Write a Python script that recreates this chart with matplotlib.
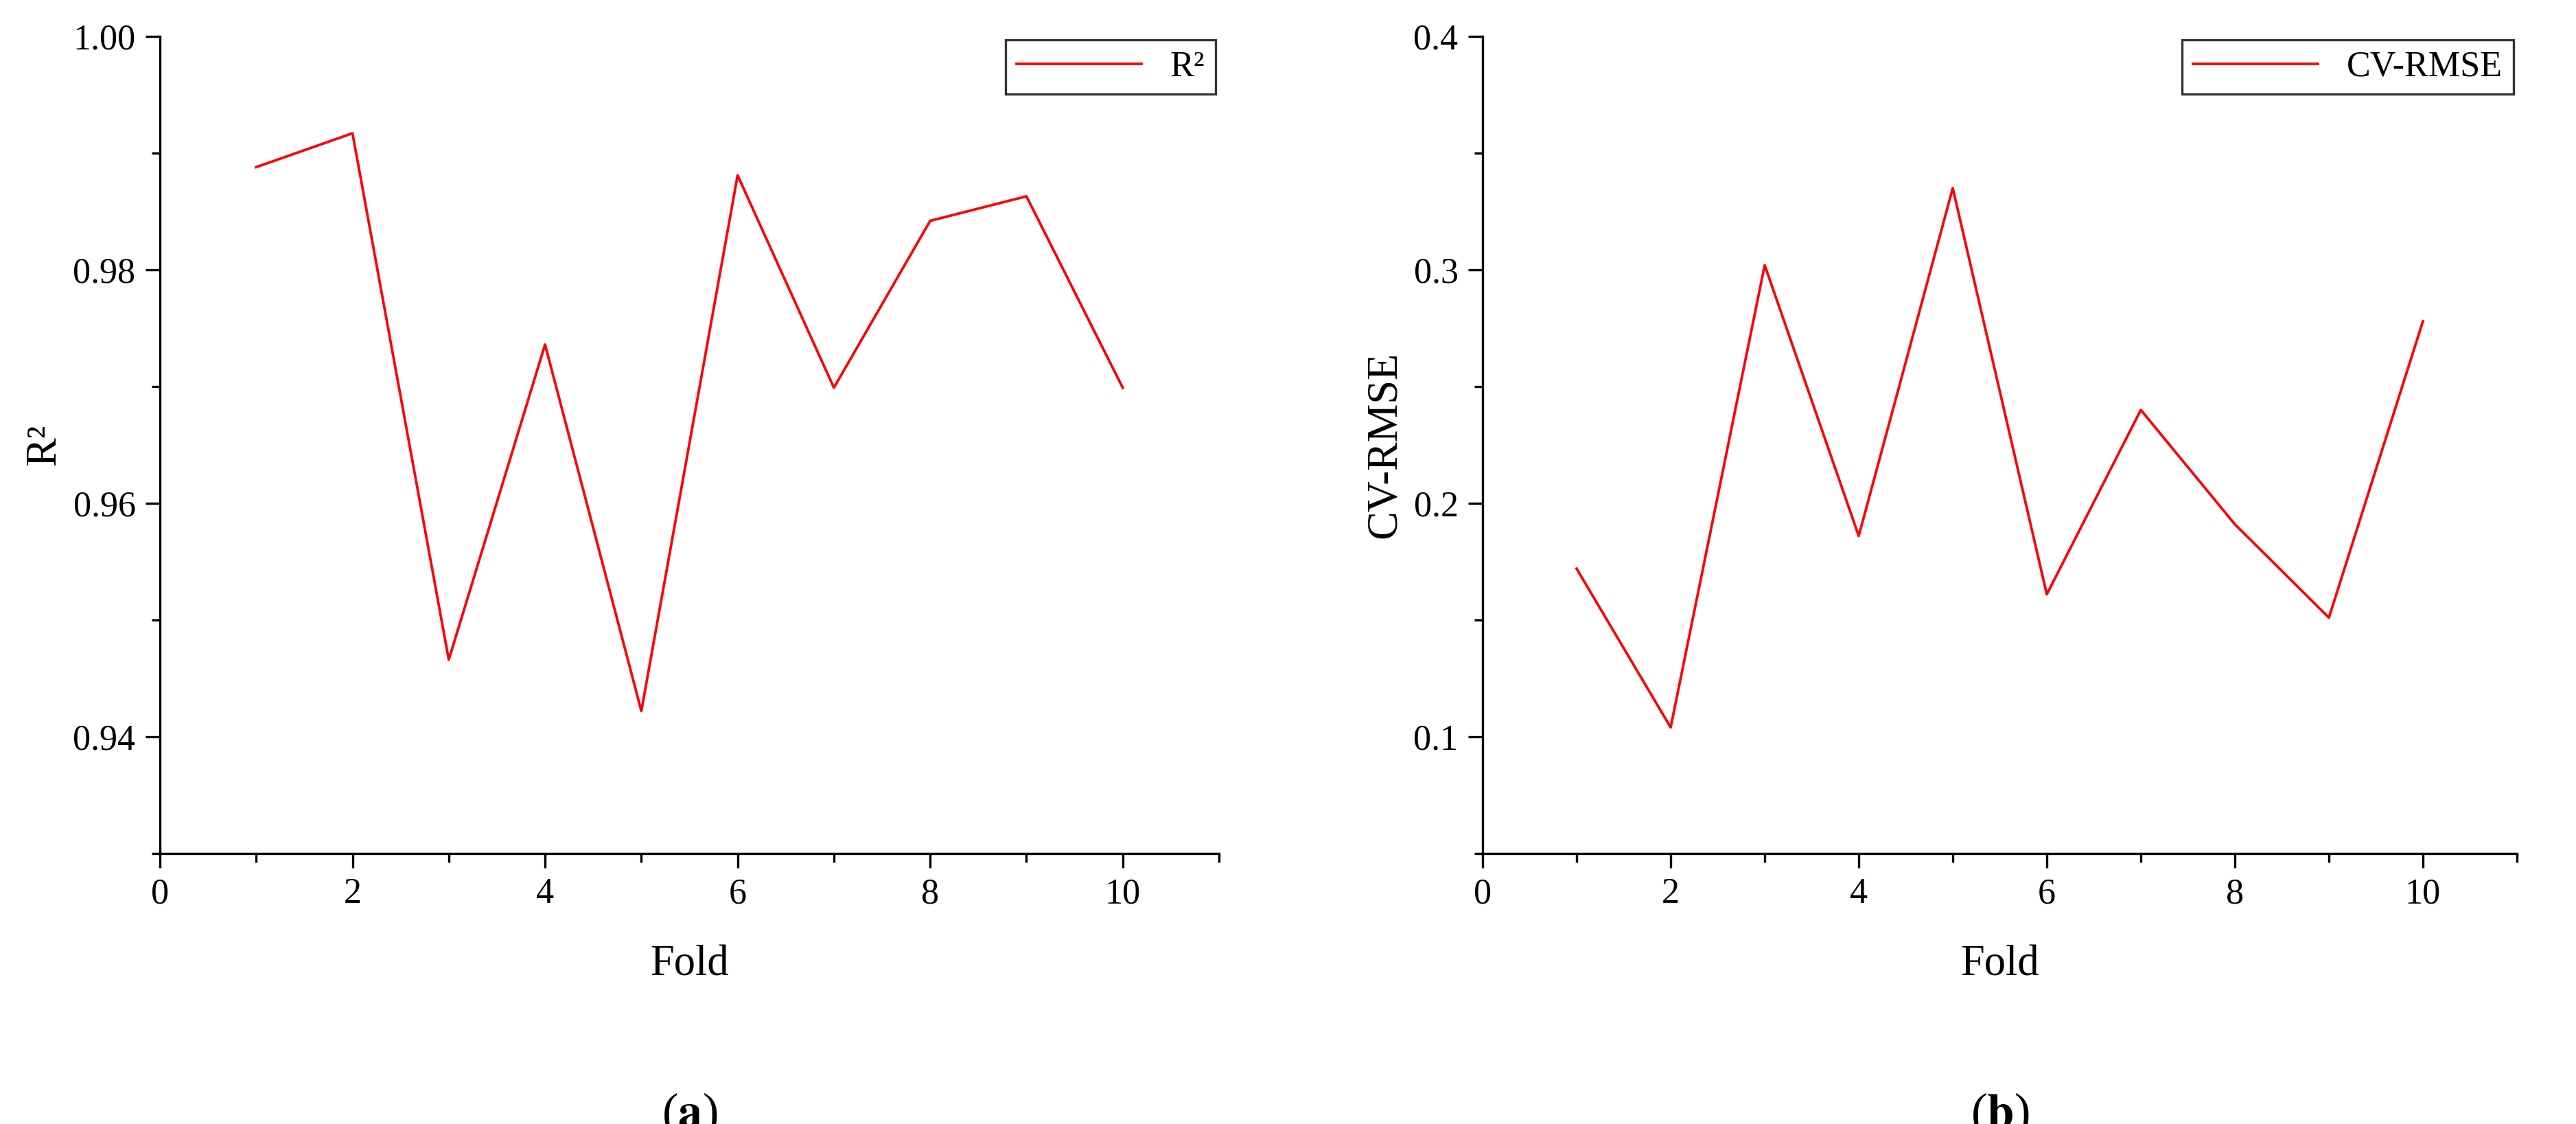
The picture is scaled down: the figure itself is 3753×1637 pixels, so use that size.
import matplotlib
matplotlib.use("Agg")
import matplotlib.pyplot as plt
from matplotlib.ticker import MultipleLocator

plt.rcParams['font.family'] = ['Liberation Serif', 'DejaVu Serif']
plt.rcParams['mathtext.fontset'] = 'stix'

folds = [1, 2, 3, 4, 5, 6, 7, 8, 9, 10]
r2 = [0.9888, 0.9917, 0.9466, 0.9736, 0.9422, 0.9881, 0.9699, 0.9842, 0.9863, 0.9699]
cvrmse = [0.172, 0.104, 0.302, 0.186, 0.335, 0.161, 0.240, 0.191, 0.151, 0.278]

W, H = 3753, 1637
fig = plt.figure(figsize=(W/300, H/300), dpi=300)
ax1 = fig.add_axes([233/W, 1-1243/H, (1776-233)/W, (1243-53)/H])
ax2 = fig.add_axes([2160/W, 1-1243/H, (3667-2160)/W, (1243-53)/H])

def style(ax, ylim, major, minor, ylabel, fmt, tag, series, label):
    ax.plot(folds, series, color='red', lw=0.9, label=label)
    ax.set_xlim(0, 11)
    ax.set_ylim(*ylim)
    ax.xaxis.set_major_locator(MultipleLocator(2))
    ax.xaxis.set_minor_locator(MultipleLocator(1))
    ax.yaxis.set_major_locator(MultipleLocator(major))
    ax.yaxis.set_minor_locator(MultipleLocator(minor))
    ax.yaxis.set_major_formatter(matplotlib.ticker.FormatStrFormatter(fmt))
    for s in ['top', 'right']:
        ax.spines[s].set_visible(False)
    ax.tick_params(which='both', direction='out', labelsize=12.5, width=0.8)
    ax.tick_params(which='major', length=5)
    ax.tick_params(which='minor', length=3)
    ax.set_xlabel('Fold', fontsize=15, labelpad=12)
    ax.set_ylabel(ylabel, fontsize=15, labelpad=3)
    leg = ax.legend(loc='upper right', fontsize=12.5, fancybox=False, edgecolor='black',
                    handlelength=3.5, borderaxespad=0.1, borderpad=0.3)
    leg.get_frame().set_linewidth(0.8)
    ax.text(0.5, -0.32, tag, transform=ax.transAxes, ha='center', va='center', fontsize=17)

style(ax1, (0.93, 1.0), 0.02, 0.01, 'R²', '%.2f', r'($\mathbf{a}$)', r2, 'R²')
style(ax2, (0.05, 0.4), 0.1, 0.05, 'CV-RMSE', '%.1f', r'($\mathbf{b}$)', cvrmse, 'CV-RMSE')

fig.savefig('out.png', dpi=300)
